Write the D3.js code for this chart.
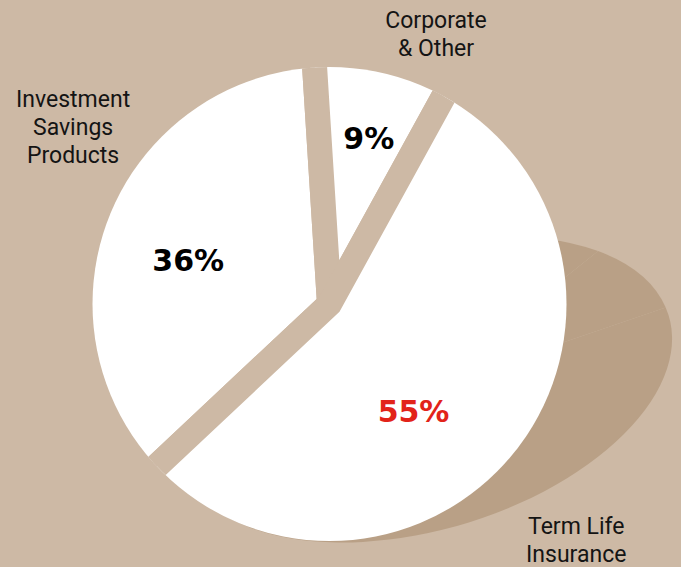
<!DOCTYPE html>
<html><head><meta charset="utf-8">
<script src="https://cdn.jsdelivr.net/npm/d3@7"></script>
<style>html,body{margin:0;padding:0;background:#cdb9a5;} svg{display:block}</style>
</head><body>
<script>
// ---- data ----
const categories = ["Investment Savings Products", "Corporate & Other", "Term Life Insurance"];
const categoryLines = [["Investment", "Savings", "Products"], ["Corporate", "& Other"], ["Term Life", "Insurance"]];
const values = [36, 9, 55];
const percentLabels = ["36%", "9%", "55%"];

// ---- layout / style ----
const W = 681, H = 567;
const bg = "#cdb9a5", shadowCol = "#b9a086";
const cx = 329.5, cy = 304, rVis = 237, gap = 25;
const startDeg = -133.2;
const rad = d => d * Math.PI / 180;

const svg = d3.select("body").append("svg").attr("width", W).attr("height", H);
svg.append("rect").attr("width", W).attr("height", H).attr("fill", bg);

const pie = d3.pie().sort(null).value(d => d)
  .startAngle(rad(startDeg)).endAngle(rad(startDeg + 360));
const arcs = pie(values);

// shadow (the same pie, flattened and tilted)
const sh = svg.append("g")
  .attr("transform", "translate(424.7,389.6) rotate(-16.8) scale(255,140) rotate(57.5)");
sh.selectAll("path").data(arcs).join("path")
  .attr("d", d3.arc().innerRadius(0).outerRadius(1))
  .attr("fill", shadowCol);

// pie
svg.append("defs").append("clipPath").attr("id", "pc")
  .append("circle").attr("cx", cx).attr("cy", cy).attr("r", rVis);
const pg = svg.append("g").attr("clip-path", "url(#pc)")
  .append("g").attr("transform", `translate(${cx},${cy})`);
const arc = d3.arc().innerRadius(0).outerRadius(rVis + gap);
pg.selectAll("path").data(arcs).join("path")
  .attr("d", arc)
  .attr("fill", "#ffffff")
  .attr("stroke", bg)
  .attr("stroke-width", gap)
  .attr("stroke-linejoin", "miter")
  .attr("stroke-miterlimit", 10);

// percent labels (polar offsets from each slice's mid angle)
const pctLayout = [{r: 148, da: -4.3}, {r: 170.6, da: 0.7}, {r: 136.5, da: 14.2}];
const pctColor = ["#000000", "#000000", "#e2231a"];
const g = svg.append("g").attr("transform", `translate(${cx},${cy})`);
g.selectAll("text.pct").data(arcs).join("text")
  .attr("class", "pct")
  .attr("x", (d, i) => { const a = (d.startAngle + d.endAngle) / 2 + rad(pctLayout[i].da); return Math.sin(a) * pctLayout[i].r; })
  .attr("y", (d, i) => { const a = (d.startAngle + d.endAngle) / 2 + rad(pctLayout[i].da); return -Math.cos(a) * pctLayout[i].r; })
  .attr("dy", "0.36em")
  .attr("text-anchor", "middle")
  .attr("font-family", "'DejaVu Sans', sans-serif")
  .attr("font-weight", "bold")
  .attr("font-size", 30)
  .attr("fill", (d, i) => pctColor[i])
  .text((d, i) => percentLabels[i]);

// category labels
const catLayout = [{r: 311.9, a: -55.3}, {r: 290.7, a: 21.5}, {r: 341.3, a: 133.7}];
const lh = 28;
categoryLines.forEach((lines, i) => {
  const a = rad(catLayout[i].a);
  const x = Math.sin(a) * catLayout[i].r, y = -Math.cos(a) * catLayout[i].r;
  const t = g.append("text")
    .attr("text-anchor", "middle")
    .attr("font-family", "Roboto, sans-serif")
    .attr("font-size", 23)
    .attr("fill", "#141414");
  lines.forEach((ln, j) => {
    t.append("tspan").attr("x", x)
      .attr("y", y + (j - (lines.length - 1) / 2) * lh)
      .attr("dy", "0.355em")
      .text(ln);
  });
});
</script>
</body></html>
